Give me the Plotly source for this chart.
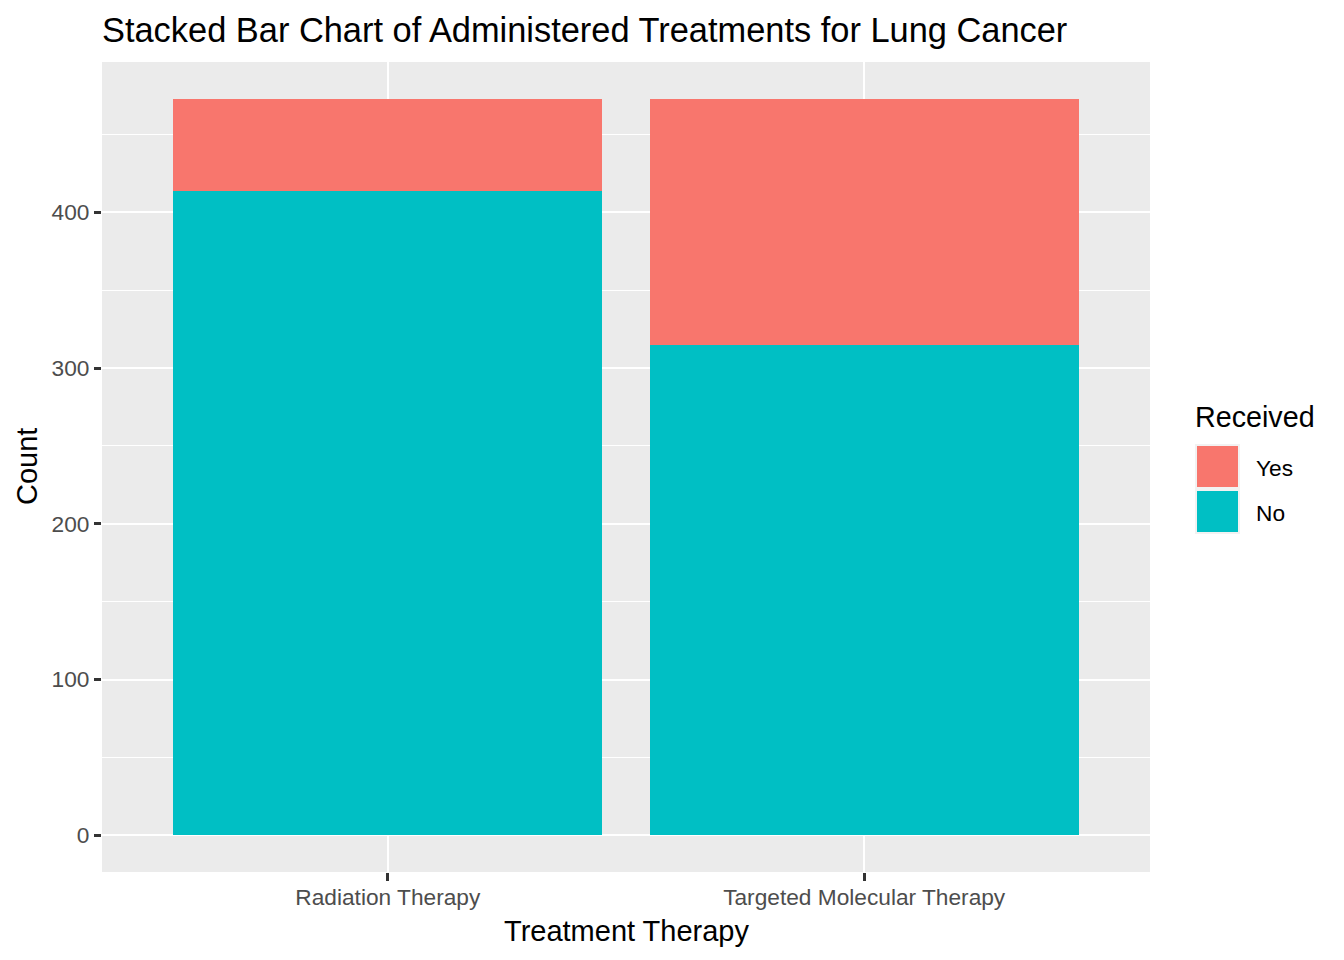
import plotly.graph_objects as go

categories = ["Radiation Therapy", "Targeted Molecular Therapy"]
received_no = [414, 315]
received_yes = [59, 158]
legend_labels = ["Yes", "No"]
y_ticks = [0, 100, 200, 300, 400]

COL_YES = "#F8766D"
COL_NO = "#00BFC4"
FONT = "Liberation Sans, Arial, sans-serif"

W, H = 1344, 960
L, R, T, B = 102, 1150, 62, 872


def px_x(p):
    return (p - L) / (R - L)


def px_y(p):
    return (B - p) / (B - T)


fig = go.Figure()
fig.add_trace(go.Bar(x=categories, y=received_no, name="No", marker=dict(color=COL_NO, line=dict(width=0)),
                     showlegend=False))
fig.add_trace(go.Bar(x=categories, y=received_yes, name="Yes", marker=dict(color=COL_YES, line=dict(width=0)),
                     showlegend=False))

total = max(a + b for a, b in zip(received_no, received_yes))
pad = total * 0.05

shapes = []
annotations = []
# manual legend
key_top = 444
key_size = 45
for i, (lab, col) in enumerate(zip(legend_labels, [COL_YES, COL_NO])):
    y0 = key_top + i * key_size
    shapes.append(dict(type="rect", xref="paper", yref="paper",
                       x0=px_x(1195), x1=px_x(1195 + key_size),
                       y0=px_y(y0 + key_size), y1=px_y(y0),
                       fillcolor="#F2F2F2", line=dict(width=0), layer="above"))
    shapes.append(dict(type="rect", xref="paper", yref="paper",
                       x0=px_x(1197), x1=px_x(1195 + key_size - 2),
                       y0=px_y(y0 + key_size - 2), y1=px_y(y0 + 2),
                       fillcolor=col, line=dict(width=0), layer="above"))
    annotations.append(dict(text=lab, xref="paper", yref="paper", x=px_x(1254), y=px_y(y0 + key_size / 2 + 1),
                            xanchor="left", yanchor="middle", showarrow=False,
                            font=dict(size=22.7, color="black", family=FONT)))
annotations.append(dict(text="Received", xref="paper", yref="paper", x=px_x(1193), y=px_y(417),
                        xanchor="left", yanchor="middle", showarrow=False,
                        font=dict(size=28.7, color="black", family=FONT)))
# axis titles
annotations.append(dict(text="Treatment Therapy", xref="paper", yref="paper", x=0.5, y=px_y(931),
                        xanchor="center", yanchor="middle", showarrow=False,
                        font=dict(size=29, color="black", family=FONT)))
annotations.append(dict(text="Count", xref="paper", yref="paper", x=px_x(27), y=0.5, textangle=-90,
                        xanchor="center", yanchor="middle", showarrow=False,
                        font=dict(size=29, color="black", family=FONT)))

fig.update_layout(
    width=W, height=H,
    barmode="stack", bargap=0.1,
    paper_bgcolor="white", plot_bgcolor="#EBEBEB",
    margin=dict(l=L, r=W - R, t=T, b=H - B, autoexpand=False),
    font=dict(family=FONT, color="black"),
    title=dict(text="Stacked Bar Chart of Administered Treatments for Lung Cancer",
               xref="paper", x=0, xanchor="left", yref="container", y=1 - 30 / H, yanchor="middle",
               font=dict(size=34.4, color="black", family=FONT)),
    shapes=shapes, annotations=annotations,
    xaxis=dict(type="category", range=[-0.6, 1.6], showgrid=True, gridcolor="white", gridwidth=2,
               ticks="outside", ticklen=8, tickwidth=2.5, tickcolor="#333333", ticklabelstandoff=-3,
               tickfont=dict(size=22.7, color="#4D4D4D", family=FONT), zeroline=False, showline=False,
               fixedrange=True),
    yaxis=dict(range=[-pad, total + pad], tickvals=y_ticks, showgrid=True, gridcolor="white", gridwidth=2,
               minor=dict(dtick=50, tick0=0, showgrid=True, gridcolor="white", gridwidth=1, ticks=""),
               ticks="outside", ticklen=7, tickwidth=2.5, tickcolor="#333333",
               tickfont=dict(size=22.7, color="#4D4D4D", family=FONT), zeroline=False, showline=False,
               fixedrange=True),
)

fig.write_html("out.html", config=dict(displayModeBar=False))
